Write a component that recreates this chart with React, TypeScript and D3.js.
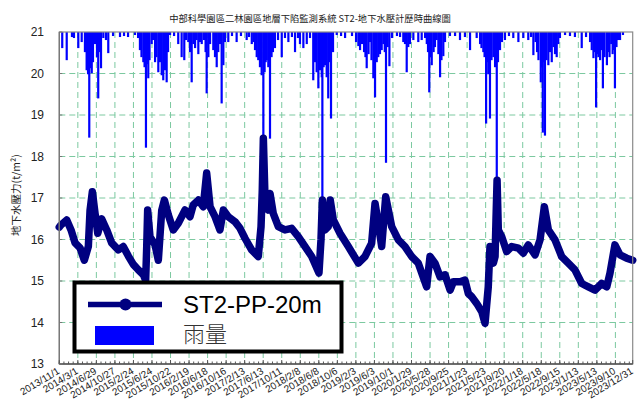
import React from "react";
import * as d3 from "d3";

const TITLE = "中部科學園區二林園區地層下陷監測系統 ST2-地下水壓計歷時曲線圖";
const Y_LABEL = "地下水壓力(t/m²)";
const SERIES_NAME = "ST2-PP-20m";
const RAIN_NAME = "雨量";

const START_DATE = "2013-11-01";
const END_DATE = "2023-12-31";

const yTicks = [13, 14, 15, 16, 17, 18, 19, 20, 21];

const xTickLabels = [
  "2013/11/1", "2014/3/1", "2014/6/29", "2014/10/27", "2015/2/24", "2015/6/24",
  "2015/10/22", "2016/2/19", "2016/6/18", "2016/10/16", "2017/2/13", "2017/6/13",
  "2017/10/11", "2018/2/8", "2018/6/8", "2018/10/6", "2019/2/3", "2019/6/3",
  "2019/10/1", "2020/1/29", "2020/5/28", "2020/9/25", "2021/1/23", "2021/5/23",
  "2021/9/20", "2022/1/18", "2022/5/18", "2022/9/15", "2023/1/13", "2023/5/13",
  "2023/9/10", "2023/12/31",
];

// groundwater pressure (t/m2)
const waterLevel: [string, number][] = [
  ["2013-11-01", 16.3], ["2013-11-12", 16.35], ["2013-12-19", 16.47], ["2014-01-16", 16.23],
  ["2014-02-11", 15.92], ["2014-03-15", 15.8], ["2014-04-12", 15.5], ["2014-05-08", 15.83],
  ["2014-05-19", 16.7], ["2014-06-03", 17.15], ["2014-06-20", 16.64], ["2014-07-08", 16.15],
  ["2014-08-02", 16.5], ["2014-09-04", 16.23], ["2014-10-06", 15.92], ["2014-11-18", 15.75],
  ["2014-12-20", 15.83], ["2015-01-22", 15.6], ["2015-02-23", 15.4], ["2015-03-27", 15.27],
  ["2015-04-29", 15.15], ["2015-05-14", 15.02], ["2015-05-21", 15.83], ["2015-05-27", 16.71],
  ["2015-06-11", 16.07], ["2015-07-14", 15.87], ["2015-08-04", 15.5], ["2015-08-26", 16.7],
  ["2015-09-12", 16.95], ["2015-10-08", 16.59], ["2015-11-09", 16.23], ["2015-12-11", 16.39],
  ["2016-01-24", 16.71], ["2016-02-25", 16.55], ["2016-03-17", 16.83], ["2016-04-19", 16.95],
  ["2016-05-21", 16.79], ["2016-06-12", 17.6], ["2016-07-04", 16.79], ["2016-08-05", 16.55],
  ["2016-09-06", 16.23], ["2016-09-28", 16.71], ["2016-10-30", 16.55], ["2016-12-12", 16.43],
  ["2017-01-14", 16.27], ["2017-02-15", 16.03], ["2017-03-30", 15.75], ["2017-05-12", 15.59],
  ["2017-05-30", 16.31], ["2017-06-07", 17.19], ["2017-06-14", 18.44], ["2017-06-25", 16.95],
  ["2017-07-16", 16.71], ["2017-07-27", 17.11], ["2017-08-17", 16.63], ["2017-09-19", 16.31],
  ["2017-11-01", 16.23], ["2017-12-14", 16.27], ["2018-01-26", 16.07], ["2018-03-11", 15.83],
  ["2018-04-23", 15.59], ["2018-06-09", 15.19], ["2018-06-22", 15.99], ["2018-07-01", 16.95],
  ["2018-07-18", 16.23], ["2018-08-08", 16.31], ["2018-08-21", 16.95], ["2018-09-10", 16.47],
  ["2018-10-23", 16.15], ["2018-12-16", 15.83], ["2019-02-19", 15.43], ["2019-04-03", 15.59],
  ["2019-05-16", 15.91], ["2019-06-07", 16.87], ["2019-06-28", 16.39], ["2019-07-20", 15.83],
  ["2019-08-15", 17.03], ["2019-09-23", 16.31], ["2019-11-05", 15.99], ["2019-12-18", 15.83],
  ["2020-01-30", 15.59], ["2020-03-13", 15.43], ["2020-05-06", 14.86], ["2020-05-28", 15.59],
  ["2020-06-29", 15.43], ["2020-08-01", 15.1], ["2020-09-02", 15.15], ["2020-10-05", 14.78],
  ["2020-10-26", 14.98], ["2020-12-08", 14.98], ["2021-01-09", 15.02], ["2021-01-31", 14.7],
  ["2021-02-22", 14.62], ["2021-03-26", 14.46], ["2021-04-28", 14.26], ["2021-05-19", 13.98],
  ["2021-06-09", 14.86], ["2021-06-20", 15.83], ["2021-07-12", 15.43], ["2021-07-23", 15.59],
  ["2021-07-29", 16.47], ["2021-08-05", 17.43], ["2021-08-13", 16.23], ["2021-09-04", 16.07],
  ["2021-10-06", 15.71], ["2021-11-08", 15.83], ["2021-12-21", 15.79], ["2022-01-22", 15.67],
  ["2022-02-23", 15.87], ["2022-04-08", 15.63], ["2022-05-10", 15.99], ["2022-06-07", 16.79],
  ["2022-07-03", 16.23], ["2022-08-15", 15.99], ["2022-09-27", 15.59], ["2022-11-09", 15.43],
  ["2022-12-22", 15.27], ["2023-02-04", 14.94], ["2023-03-19", 14.86], ["2023-05-01", 14.78],
  ["2023-06-13", 14.94], ["2023-07-16", 14.86], ["2023-08-06", 15.19], ["2023-09-07", 15.87],
  ["2023-10-10", 15.63], ["2023-11-22", 15.55], ["2023-12-31", 15.5],
];

// rainfall: [days since START_DATE, mm]
const rainDays: number[] = [
  19, 48, 82, 95, 123, 145, 166, 177, 186, 194, 202, 210, 218, 231, 244, 252, 260, 270, 285, 302,
  317, 348, 393, 419, 445, 490, 510, 522, 532, 544, 552, 561, 569, 576, 584, 598, 607, 620, 629, 641,
  652, 663, 673, 684, 695, 704, 717, 743, 770, 792, 809, 820, 835, 846, 857, 868, 879, 889, 900, 911,
  922, 937, 947, 954, 965, 976, 997, 1008, 1019, 1029, 1040, 1051, 1062, 1073, 1094, 1118, 1148, 1176, 1213, 1228,
  1246, 1257, 1267, 1278, 1288, 1299, 1310, 1321, 1329, 1336, 1343, 1353, 1364, 1374, 1383, 1396, 1416, 1440, 1461, 1483,
  1506, 1526, 1545, 1558, 1580, 1602, 1623, 1644, 1655, 1666, 1677, 1688, 1699, 1703, 1711, 1720, 1731, 1741, 1752, 1759,
  1772, 1796, 1824, 1850, 1895, 1921, 1936, 1947, 1960, 1973, 1982, 1990, 2002, 2012, 2021, 2033, 2044, 2055, 2065, 2076,
  2087, 2098, 2107, 2115, 2126, 2137, 2154, 2186, 2206, 2227, 2238, 2249, 2259, 2270, 2292, 2324, 2346, 2368, 2379, 2387,
  2395, 2403, 2411, 2423, 2432, 2443, 2454, 2465, 2474, 2486, 2497, 2529, 2562, 2594, 2626, 2659, 2702, 2724, 2733, 2745,
  2753, 2763, 2771, 2777, 2783, 2788, 2798, 2810, 2821, 2832, 2840, 2853, 2866, 2885, 2911, 2939, 2972, 3004, 3036, 3054,
  3069, 3083, 3093, 3102, 3117, 3125, 3130, 3138, 3144, 3154, 3166, 3177, 3188, 3199, 3209, 3220, 3230, 3241, 3274, 3306,
  3338, 3382, 3410, 3436, 3447, 3458, 3465, 3475, 3483, 3490, 3501, 3511, 3519, 3530, 3545, 3553, 3562, 3573, 3582, 3589,
  3597, 3607, 3617, 3630, 3649,
];
const rainMm: number[] = [
  16, 28, 5, 6, 16, 10, 20, 38, 42, 105, 36, 41, 30, 12, 25, 66, 20, 36, 6, 8,
  21, 4, 5, 4, 5, 3, 6, 18, 25, 30, 35, 115, 32, 46, 28, 12, 8, 30, 25, 40,
  30, 43, 48, 38, 50, 20, 3, 4, 12, 25, 28, 8, 10, 20, 50, 12, 16, 8, 22, 10,
  12, 8, 20, 61, 25, 12, 18, 25, 35, 20, 12, 71, 33, 10, 10, 4, 10, 4, 8, 5,
  12, 10, 18, 25, 28, 35, 43, 106, 40, 30, 28, 35, 106, 25, 20, 16, 8, 25, 6, 10,
  5, 20, 6, 12, 16, 12, 6, 48, 30, 40, 56, 38, 45, 168, 35, 33, 45, 66, 30, 86,
  20, 3, 4, 6, 4, 10, 14, 18, 12, 20, 25, 36, 22, 10, 28, 46, 65, 30, 25, 22,
  18, 12, 20, 130, 15, 34, 6, 4, 5, 10, 12, 40, 15, 12, 8, 10, 8, 6, 12, 20,
  60, 25, 33, 20, 15, 8, 22, 45, 28, 24, 10, 4, 4, 8, 5, 18, 6, 12, 16, 20,
  25, 91, 30, 42, 22, 86, 28, 25, 35, 148, 30, 18, 10, 8, 4, 6, 10, 6, 8, 5,
  23, 10, 20, 28, 50, 35, 100, 30, 103, 28, 33, 20, 30, 15, 22, 25, 12, 6, 3, 4,
  5, 16, 5, 10, 18, 26, 20, 75, 22, 25, 28, 18, 56, 25, 33, 20, 25, 12, 22, 18,
  56, 15, 8, 8, 3,
];

const W = 637;
const H = 404;
const M = { left: 59.3, right: 632.7, top: 32, bottom: 364 };

const LATIN = "'Liberation Sans', Arial, 'Noto Sans CJK TC', sans-serif";
const CJK = "'Noto Sans CJK TC', 'Noto Sans CJK SC', sans-serif";

export default function App() {
  const parse = d3.timeParse("%Y-%m-%d");
  const parseTick = d3.timeParse("%Y/%m/%d");
  const start = parse(START_DATE)!;
  const end = parse(END_DATE)!;

  const x = d3.scaleTime().domain([start, end]).range([M.left, M.right]);
  const y = d3.scaleLinear().domain([13, 21]).range([M.bottom, M.top]);
  const rainY = d3.scaleLinear().domain([0, 330]).range([0, M.bottom - M.top]);

  const waterPts = waterLevel.map(([d, v]) => [x(parse(d)!), y(v)] as [number, number]);
  const line = d3.line().curve(d3.curveLinear);

  const tickDates = xTickLabels.map((s) => parseTick(s)!);
  const totalDays = d3.timeDay.count(start, end);
  const minorTicks = d3.range(0, totalDays, 30).map((k) => x(d3.timeDay.offset(start, k)));

  const gridColor = "#7cc9a0";

  return (
    <svg width={W} height={H} style={{ position: "absolute", left: 0, top: 0, background: "#fff" }}>
      <rect x={0} y={0} width={W} height={H} fill="#fff" />
      <text x={310} y={21.5} textAnchor="middle" fontSize={9.3} fontFamily={CJK} fill="#222">
        {TITLE}
      </text>

      {/* gridlines */}
      {yTicks.slice(1, -1).map((t) => (
        <line key={"gy" + t} x1={M.left} x2={M.right} y1={y(t)} y2={y(t)} stroke={gridColor}
          strokeWidth={1} strokeDasharray="6,4" />
      ))}
      {tickDates.slice(1, -1).map((d, i) => (
        <line key={"gx" + i} x1={x(d)} x2={x(d)} y1={M.top} y2={M.bottom} stroke={gridColor}
          strokeWidth={1} strokeDasharray="6,4" />
      ))}

      {/* rain bars hanging from top */}
      {rainDays.map((dd, i) => {
        const cx = x(d3.timeDay.offset(start, dd));
        return (
          <rect key={"r" + i} x={cx - 1.1} y={M.top} width={2.2} height={rainY(rainMm[i])} fill="#0000ff" />
        );
      })}

      {/* water level */}
      <path d={line(waterPts) || ""} fill="none" stroke="#000080" strokeWidth={7.5}
        strokeLinejoin="round" strokeLinecap="round" />

      {/* frame */}
      <rect x={M.left} y={M.top} width={M.right - M.left} height={M.bottom - M.top} fill="none"
        stroke="#8a8a8a" strokeWidth={1.2} />
      <line x1={M.left} x2={M.right} y1={M.bottom} y2={M.bottom} stroke="#555" strokeWidth={1.3} />
      <line x1={M.left} x2={M.left} y1={M.top} y2={M.bottom} stroke="#777" strokeWidth={1.3} />

      {/* x ticks */}
      {minorTicks.map((mx, i) => (
        <line key={"mt" + i} x1={mx} x2={mx} y1={M.bottom} y2={M.bottom - 2.5} stroke="#555" strokeWidth={1} />
      ))}
      {tickDates.map((d, i) => (
        <line key={"xt" + i} x1={x(d)} x2={x(d)} y1={M.bottom} y2={M.bottom - 4} stroke="#555" strokeWidth={1} />
      ))}
      {tickDates.map((d, i) => (
        <text key={"xl" + i} transform={`translate(${x(d) + 1},${M.bottom + 9}) rotate(-31)`}
          textAnchor="end" fontSize={10} fontFamily={LATIN} fill="#222">
          {xTickLabels[i]}
        </text>
      ))}

      {/* y ticks */}
      {yTicks.map((t) => (
        <g key={"yt" + t}>
          <line x1={M.left} x2={M.left + 3} y1={y(t)} y2={y(t)} stroke="#777" />
          <text x={44} y={y(t)} dy="0.36em" textAnchor="end" fontSize={12} fontFamily={LATIN} fill="#222">
            {t}
          </text>
        </g>
      ))}
      <text transform={`translate(20,195) rotate(-90)`} textAnchor="middle" fontSize={10.5}
        fontFamily={CJK} fill="#222">
        {Y_LABEL}
      </text>

      {/* legend */}
      <rect x={74.5} y={282.5} width={267} height={69} fill="#fff" stroke="#000" strokeWidth={4} />
      <line x1={88} x2={162} y1={304.5} y2={304.5} stroke="#000080" strokeWidth={5.5} />
      <circle cx={125.5} cy={304.5} r={6} fill="#000080" />
      <text x={183} y={313} fontSize={24} fontFamily={LATIN} fill="#000">{SERIES_NAME}</text>
      <rect x={95} y={326} width={59} height={19} fill="#0000ff" />
      <text x={183} y={342} fontSize={22} fontFamily={CJK} fontWeight={300} fill="#333">{RAIN_NAME}</text>
    </svg>
  );
}
